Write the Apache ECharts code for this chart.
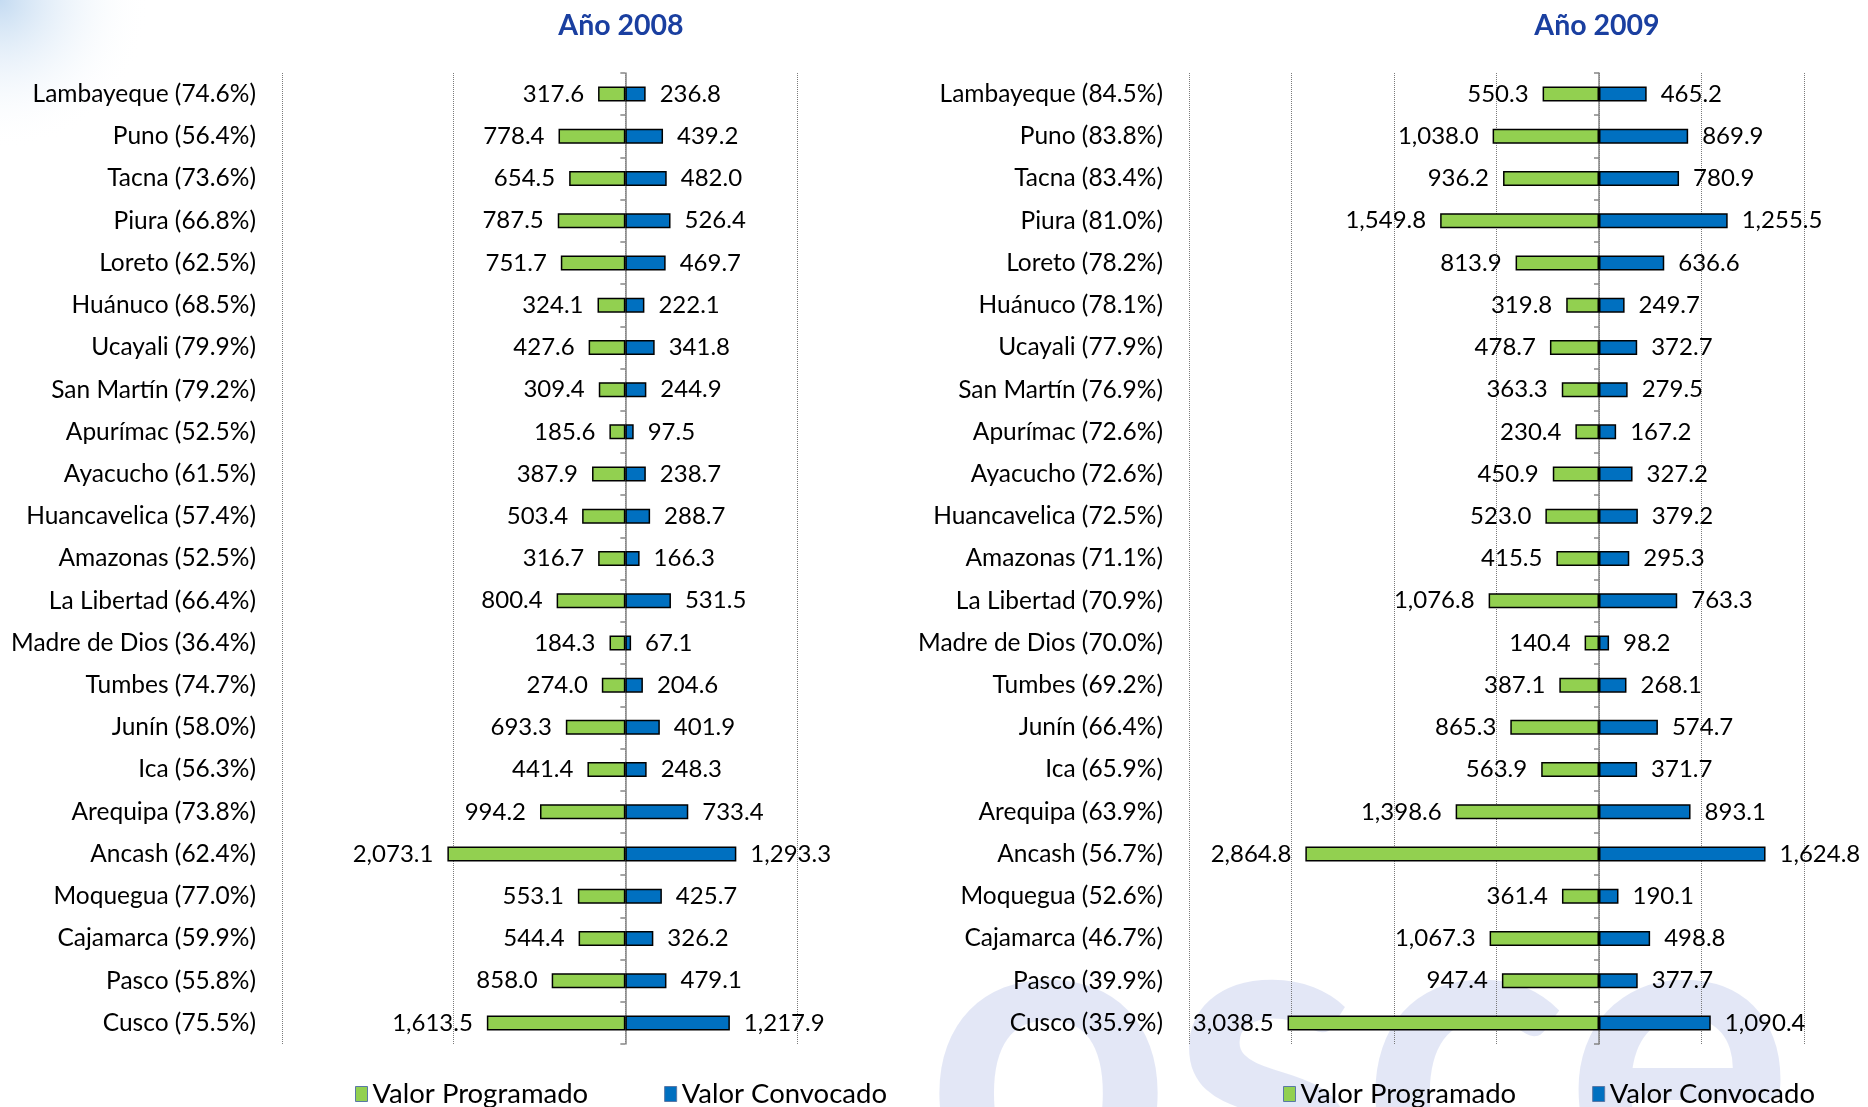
<!DOCTYPE html>
<html>
<head>
<meta charset="utf-8">
<script src="https://cdn.jsdelivr.net/npm/echarts@6/dist/echarts.min.js"></script>
<style>
  html, body { margin: 0; padding: 0; background: #fff; }
  #chart { width: 1868px; height: 1107px; }
</style>
</head>
<body>
<div id="chart"></div>
<script>
// 2008
var cats2008 = ['Lambayeque (74.6%)', 'Puno (56.4%)', 'Tacna (73.6%)', 'Piura (66.8%)', 'Loreto (62.5%)',
  'Huánuco (68.5%)', 'Ucayali (79.9%)', 'San Martín (79.2%)', 'Apurímac (52.5%)', 'Ayacucho (61.5%)',
  'Huancavelica (57.4%)', 'Amazonas (52.5%)', 'La Libertad (66.4%)', 'Madre de Dios (36.4%)', 'Tumbes (74.7%)',
  'Junín (58.0%)', 'Ica (56.3%)', 'Arequipa (73.8%)', 'Ancash (62.4%)', 'Moquegua (77.0%)',
  'Cajamarca (59.9%)', 'Pasco (55.8%)', 'Cusco (75.5%)'];
var prog2008 = [317.6, 778.4, 654.5, 787.5, 751.7, 324.1, 427.6, 309.4, 185.6, 387.9, 503.4, 316.7,
  800.4, 184.3, 274.0, 693.3, 441.4, 994.2, 2073.1, 553.1, 544.4, 858.0, 1613.5];
var conv2008 = [236.8, 439.2, 482.0, 526.4, 469.7, 222.1, 341.8, 244.9, 97.5, 238.7, 288.7, 166.3,
  531.5, 67.1, 204.6, 401.9, 248.3, 733.4, 1293.3, 425.7, 326.2, 479.1, 1217.9];

// 2009
var cats2009 = ['Lambayeque (84.5%)', 'Puno (83.8%)', 'Tacna (83.4%)', 'Piura (81.0%)', 'Loreto (78.2%)',
  'Huánuco (78.1%)', 'Ucayali (77.9%)', 'San Martín (76.9%)', 'Apurímac (72.6%)', 'Ayacucho (72.6%)',
  'Huancavelica (72.5%)', 'Amazonas (71.1%)', 'La Libertad (70.9%)', 'Madre de Dios (70.0%)', 'Tumbes (69.2%)',
  'Junín (66.4%)', 'Ica (65.9%)', 'Arequipa (63.9%)', 'Ancash (56.7%)', 'Moquegua (52.6%)',
  'Cajamarca (46.7%)', 'Pasco (39.9%)', 'Cusco (35.9%)'];
var prog2009 = [550.3, 1038.0, 936.2, 1549.8, 813.9, 319.8, 478.7, 363.3, 230.4, 450.9, 523.0, 415.5,
  1076.8, 140.4, 387.1, 865.3, 563.9, 1398.6, 2864.8, 361.4, 1067.3, 947.4, 3038.5];
var conv2009 = [465.2, 869.9, 780.9, 1255.5, 636.6, 249.7, 372.7, 279.5, 167.2, 327.2, 379.2, 295.3,
  763.3, 98.2, 268.1, 574.7, 371.7, 893.1, 1624.8, 190.1, 498.8, 377.7, 1090.4];

var titles = ['Año 2008', 'Año 2009'];
var legendNames = ['Valor Programado', 'Valor Convocado'];

var FONT = 'Lato';
var GREEN = '#92D050', BLUE = '#0070C0';

function fmt(v) {
  return Math.abs(v).toLocaleString('en-US', { minimumFractionDigits: 1, maximumFractionDigits: 1 });
}

var myChart = echarts.init(document.getElementById('chart'));

// layout of the two panels
var panels = [
  { cats: cats2008, prog: prog2008, conv: conv2008, left: 282, width: 515, interval: 2000, titleX: 616, legendX: 350 },
  { cats: cats2009, prog: prog2009, conv: conv2009, left: 1189, width: 615, interval: 1000, titleX: 1592, legendX: 1278 }
];

var grid = [], xAxis = [], yAxis = [], series = [], title = [], legend = [];

panels.forEach(function (p, i) {
  grid.push({ left: p.left, top: 73, width: p.width, height: 971, containLabel: false });

  xAxis.push({
    type: 'value', gridIndex: i, min: -4000, max: 2000, interval: p.interval,
    axisLabel: { show: false }, axisLine: { show: false }, axisTick: { show: false },
    splitLine: { show: true, lineStyle: { color: '#7a7a7a', type: 'dotted', width: 1 } }
  });

  // labels at left of the plot
  yAxis.push({
    type: 'category', gridIndex: i, data: p.cats, inverse: true, position: 'left',
    axisLine: { show: false, onZero: false }, axisTick: { show: false },
    axisLabel: { interval: 0, margin: 26, color: '#000', fontFamily: FONT, fontSize: 24.5 }
  });
  // axis line at zero
  yAxis.push({
    type: 'category', gridIndex: i, data: p.cats, inverse: true, position: 'left',
    axisLine: { show: true, onZero: true, lineStyle: { color: '#868686', width: 1.5 } },
    axisTick: { show: true, length: 5, lineStyle: { color: '#868686', width: 1.5 } },
    axisLabel: { show: false }
  });

  series.push({
    name: legendNames[0], type: 'bar', xAxisIndex: i, yAxisIndex: i * 2,
    data: p.prog.map(function (v) { return -v; }),
    barWidth: 15, barGap: '-100%',
    itemStyle: { color: GREEN, borderColor: '#000', borderWidth: 1.5 },
    label: { show: true, position: 'left', distance: 14, color: '#000', fontFamily: FONT, fontSize: 24,
      formatter: function (d) { return fmt(d.value); } }
  });
  series.push({
    name: legendNames[1], type: 'bar', xAxisIndex: i, yAxisIndex: i * 2,
    data: p.conv,
    barWidth: 15, barGap: '-100%',
    itemStyle: { color: BLUE, borderColor: '#000', borderWidth: 1.5 },
    label: { show: true, position: 'right', distance: 14, color: '#000', fontFamily: FONT, fontSize: 24,
      formatter: function (d) { return fmt(d.value); } }
  });

  title.push({
    text: titles[i], left: p.titleX, top: 6, textAlign: 'center',
    textStyle: { color: '#1A3FA0', fontFamily: FONT, fontWeight: 'bold', fontSize: 28.5 }
  });

  legend.push({
    data: legendNames, left: p.legendX, top: 1075, itemGap: 76, itemWidth: 12, itemHeight: 15,
    icon: 'rect', selectedMode: false,
    itemStyle: { borderColor: '#5a78a6', borderWidth: 1 },
    textStyle: { color: '#000', fontFamily: FONT, fontSize: 27.5 }
  });
});

var option = {
  backgroundColor: '#fff',
  animation: false,
  graphic: [
    {
      type: 'circle', shape: { cx: 0, cy: 0, r: 150 }, z: -10, silent: true,
      style: {
        fill: {
          type: 'radial', x: 0.5, y: 0.5, r: 0.5,
          colorStops: [{ offset: 0, color: 'rgba(190,215,240,0.9)' }, { offset: 1, color: 'rgba(255,255,255,0)' }]
        }
      }
    },
    {
      // faint logo watermark, bottom right
      type: 'text', left: 925, top: 850, z: -10, silent: true,
      style: { text: 'osce', fill: 'rgba(200,208,238,0.5)', font: 'bold 430px Lato' }
    }
  ],
  title: title,
  legend: legend,
  grid: grid,
  xAxis: xAxis,
  yAxis: yAxis,
  series: series
};

myChart.setOption(option);
</script>
</body>
</html>
